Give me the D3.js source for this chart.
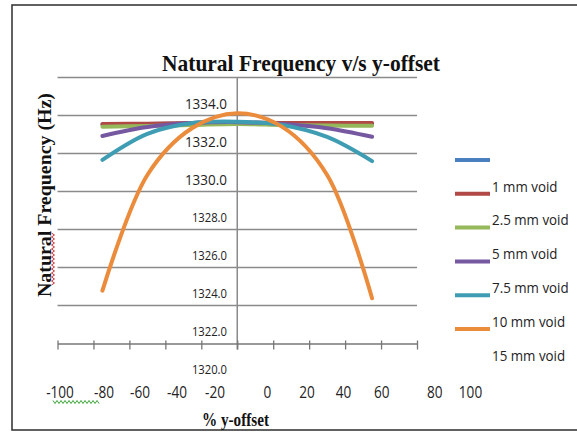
<!DOCTYPE html>
<html>
<head>
<meta charset="utf-8">
<script src="https://cdn.jsdelivr.net/npm/d3@7"></script>
<style>
  html, body { margin: 0; padding: 0; background: #fff; }
  svg { display: block; }
</style>
</head>
<body>
<svg id="chart" width="577" height="434"></svg>
<script>
// Offsets along the section (% of half-height) at which the frequency was computed
const offsets = [-75, -50, -25, 0, 25, 50, 75];

// Natural frequency (Hz) per void size, one array per series
const seriesNames = ["1 mm void", "2.5 mm void", "5 mm void", "7.5 mm void", "10 mm void", "15 mm void"];
const void1   = [1333.52, 1333.55, 1333.58, 1333.60, 1333.58, 1333.56, 1333.55];
const void2_5 = [1333.55, 1333.57, 1333.60, 1333.62, 1333.61, 1333.60, 1333.61];
const void5   = [1333.41, 1333.45, 1333.50, 1333.55, 1333.50, 1333.47, 1333.46];
const void7_5 = [1332.92, 1333.39, 1333.60, 1333.65, 1333.55, 1333.33, 1332.88];
const void10  = [1331.66, 1333.03, 1333.60, 1333.67, 1333.50, 1332.87, 1331.60];
const void15  = [1324.78, 1330.87, 1333.34, 1334.12, 1333.40, 1330.87, 1324.38];
const seriesValues = [void1, void2_5, void5, void7_5, void10, void15];
const seriesColors = ["#4A7FC0", "#B04845", "#94B85A", "#7558A0", "#3F9DB3", "#EB8B3C"];

// Axis ticks
const xTicks = [-100, -80, -60, -40, -20, 0, 20, 40, 60, 80, 100];
const yGrid = [1336, 1334, 1332, 1330, 1328, 1326, 1324];
const yLabels = [1334, 1332, 1330, 1328, 1326, 1324, 1322, 1320];
const yLabelsLarge = [1334, 1332, 1330];

const svg = d3.select("#chart");

const x = d3.scaleLinear().domain([-100, 100]).range([57.5, 417]);
const y = d3.scaleLinear().domain([1322, 1336]).range([343.5, 77.5]);
// The category labels under the axis sit at their own, uneven spots
const xLabelPos = d3.scaleLinear()
  .domain([-100, -80, -60, -40, -20, 0, 20, 40, 60, 80, 100])
  .range([60, 104, 140, 177, 215, 267.5, 307, 343.5, 381.7, 434.7, 470.5]);

// outer frame
svg.append("rect")
  .attr("x", 12).attr("y", 5).attr("width", 580).attr("height", 425)
  .attr("fill", "none").attr("stroke", "#3a3a3a").attr("stroke-width", 1.6);

// title
svg.append("text")
  .attr("x", 162).attr("y", 71)
  .attr("font-family", "'Liberation Serif', 'Times New Roman', serif")
  .attr("font-weight", "bold").attr("font-size", 24)
  .attr("textLength", 278).attr("lengthAdjust", "spacingAndGlyphs")
  .attr("fill", "#111")
  .text("Natural Frequency v/s y-offset");

// horizontal gridlines
svg.append("g").selectAll("line").data(yGrid).join("line")
  .attr("x1", x(-100)).attr("x2", x(100))
  .attr("y1", d => y(d)).attr("y2", d => y(d))
  .attr("stroke", "#8a8a8a").attr("stroke-width", 1.5);

// vertical axis at x = 0
svg.append("line")
  .attr("x1", x(0)).attr("x2", x(0))
  .attr("y1", y(1336)).attr("y2", y(1322) + 6)
  .attr("stroke", "#8a8a8a").attr("stroke-width", 1.5);

// horizontal axis with ticks
const xAxis = d3.axisBottom(x).tickValues(xTicks).tickSize(6).tickSizeOuter(0).tickFormat("");
const gx = svg.append("g").attr("transform", `translate(0,${y(1322)})`).call(xAxis);
gx.select(".domain").attr("stroke", "#777").attr("stroke-width", 1.5);
gx.selectAll(".tick line").attr("stroke", "#777").attr("stroke-width", 1.3).attr("y1", -3);

// y tick labels (drawn a little above their gridlines)
svg.append("g").selectAll("text").data(yLabels).join("text")
  .attr("transform", d => `translate(227,${y(d) - 11.5}) scale(0.9,1)`)
  .attr("dy", "0.35em")
  .attr("text-anchor", "end")
  .attr("font-family", "'Open Sans', sans-serif")
  .attr("font-size", d => yLabelsLarge.includes(d) ? 15 : 12.5)
  .attr("fill", "#222")
  .text(d => d3.format(".1f")(d));

// x tick labels
svg.append("g").selectAll("text").data(xTicks).join("text")
  .attr("transform", d => `translate(${xLabelPos(d)},398) scale(0.85,1)`)
  .attr("text-anchor", "middle")
  .attr("font-family", "'Open Sans', sans-serif")
  .attr("font-size", 16)
  .attr("fill", "#222")
  .text(d => d);

// spell-check squiggles
function squiggle(x0, y0, len, vertical, color) {
  const pts = [];
  const step = 2;
  for (let i = 0; i <= len / step; i++) {
    const a = i * step, b = (i % 2 ? 1.5 : -1.5);
    pts.push(vertical ? [x0 + b, y0 + a] : [x0 + a, y0 + b]);
  }
  svg.append("path").attr("d", d3.line()(pts))
    .attr("fill", "none").attr("stroke", color).attr("stroke-width", 1);
}
squiggle(53, 402, 46, false, "#3aa23a");

// axis titles
svg.append("text")
  .attr("transform", "translate(51,297) rotate(-90)")
  .attr("font-family", "'Liberation Serif', 'Times New Roman', serif")
  .attr("font-weight", "bold").attr("font-size", 18)
  .attr("textLength", 204).attr("lengthAdjust", "spacingAndGlyphs")
  .attr("fill", "#111")
  .text("Natural Frequency (Hz)");
squiggle(53, 233, 52, true, "#d03030");

svg.append("text")
  .attr("x", 202).attr("y", 426)
  .attr("font-family", "'Liberation Serif', 'Times New Roman', serif")
  .attr("font-weight", "bold").attr("font-size", 18)
  .attr("textLength", 67).attr("lengthAdjust", "spacingAndGlyphs")
  .attr("fill", "#111")
  .text("% y-offset");

// series lines
const line = d3.line()
  .x((d, i) => x(offsets[i]))
  .y(d => y(d))
  .curve(d3.curveCatmullRom.alpha(0.5));

svg.append("g").selectAll("path").data(seriesValues).join("path")
  .attr("d", d => line(d))
  .attr("fill", "none")
  .attr("stroke", (d, i) => seriesColors[i])
  .attr("stroke-width", 4)
  .attr("stroke-linecap", "round")
  .attr("stroke-linejoin", "round");

// legend: swatch rows and their labels
const swatchY = i => 160 + 33.8 * i;
const legend = svg.append("g");
legend.selectAll("line").data(seriesNames).join("line")
  .attr("x1", 455).attr("x2", 490)
  .attr("y1", (d, i) => swatchY(i)).attr("y2", (d, i) => swatchY(i))
  .attr("stroke", (d, i) => seriesColors[i]).attr("stroke-width", 4);
legend.selectAll("text").data(seriesNames).join("text")
  .attr("transform", (d, i) => `translate(492,${swatchY(i + 1) - 7.5}) scale(0.89,1)`)
  .attr("dy", "0.35em")
  .attr("font-family", "'Open Sans', sans-serif")
  .attr("font-size", 15)
  .attr("fill", "#222")
  .text(d => d);
</script>
</body>
</html>
